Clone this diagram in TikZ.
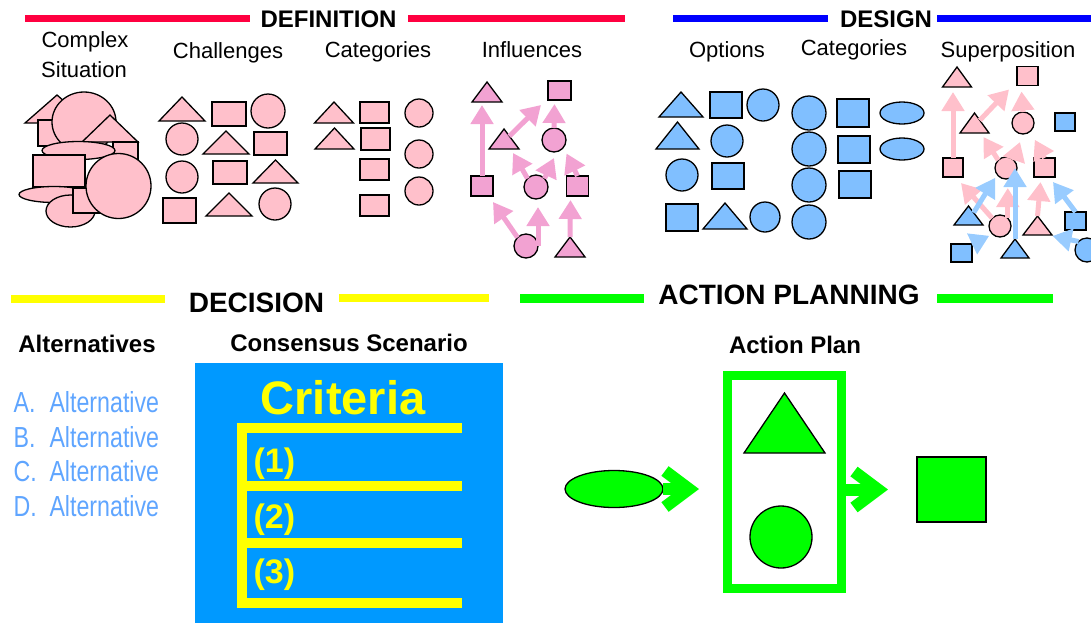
\documentclass[tikz,border=0pt]{standalone}
\usepackage{tikz}
\usepackage{xcolor}
\usepackage{fontspec}
\setmainfont{Liberation Sans}
\newfontfamily\narrowfont[FakeStretch=0.8]{Liberation Sans}
\usetikzlibrary{shapes.geometric,arrows.meta}

\definecolor{defred}{RGB}{255,0,64}
\definecolor{desblue}{RGB}{0,0,255}
\definecolor{decyellow}{RGB}{255,255,0}
\definecolor{actgreen}{RGB}{0,255,0}
\definecolor{lpink}{RGB}{255,192,203}
\definecolor{ipink}{RGB}{242,162,210}
\definecolor{lblue}{RGB}{128,191,255}
\definecolor{arblue}{RGB}{153,204,255}
\definecolor{scenblue}{RGB}{0,153,255}
\definecolor{altblue}{RGB}{95,165,255}

\tikzset{
  shp/.style={draw=black, line width=1.3pt, inner sep=0pt, outer sep=0pt},
  box/.style 2 args={shp, rectangle, minimum width=#1pt, minimum height=#2pt},
  ball/.style={shp, circle, minimum size=#1pt},
  oval/.style 2 args={shp, ellipse, minimum width=#1pt, minimum height=#2pt},
  tri/.style 2 args={shp, isosceles triangle, isosceles triangle stretches,
    shape border rotate=90, minimum width=#1pt, minimum height=#2pt, anchor=south},
  infl/.style={draw=ipink, line width=5pt, -{Triangle[length=19pt,width=22pt]}},
  spk/.style={draw=lpink, line width=5pt, -{Triangle[length=19pt,width=22pt]}},
  sbl/.style={draw=arblue, line width=5pt, -{Triangle[length=19pt,width=22pt]}},
  chev/.style={draw=actgreen, line width=12pt, -{Straight Barb[sharp,length=24pt,width=36pt]}},
  hd/.style={font=\fontsize{24}{28}\selectfont\bfseries, anchor=base},
  big/.style={font=\fontsize{28}{32}\selectfont\bfseries, anchor=base},
  sub/.style={font=\fontsize{22}{26}\selectfont, anchor=base},
  lab/.style={font=\fontsize{24}{28}\selectfont\bfseries, anchor=base},
}

\begin{document}
\begin{tikzpicture}[x=1pt,y=-1pt]
\useasboundingbox (0,0) rectangle (1091,622);

% section titles
\draw[line width=6.5pt, defred] (25,18.5) -- (250,18.5);
\draw[line width=6.5pt, defred] (408,18.5) -- (625,18.5);
\node[hd] (tdef) at (328.5,27) {DEFINITION};
\draw[line width=6.5pt, desblue] (673,18.5) -- (828,18.5);
\draw[line width=6.5pt, desblue] (937,18.5) -- (1091,18.5);
\node[hd] (tdes) at (886,27) {DESIGN};

\node[sub] (tcx1) at (85,47) {Complex};
\node[sub] (tcx2) at (84,77) {Situation};
\node[sub] (tch) at (228,58) {Challenges};
\node[sub] (tca) at (378,57) {Categories};
\node[sub] (tin) at (532,57) {Influences};
\node[sub] (top) at (727,57) {Options};
\node[sub] (tcb) at (854,55) {Categories};
\node[sub] (tsu) at (1008,57) {Superposition};

% complex situation
\node[tri={64}{28}, fill=lpink] (c1) at (57,123) {};
\node[box={28}{26}, fill=lpink] (c2) at (52,133) {};
\node[oval={64}{60}, fill=lpink] (c3) at (84,122) {};
\node[tri={56}{27}, fill=lpink] (c4) at (110,142) {};
\node[box={25}{26}, fill=lpink] (c5) at (125.5,155) {};
\node[oval={73}{18}, fill=lpink] (c6) at (78.5,150.5) {};
\node[box={52}{32}, fill=lpink] (c7) at (59,171) {};
\node[oval={70}{16}, fill=lpink] (c8) at (54,194.5) {};
\node[oval={49}{32}, fill=lpink] (c9) at (70.5,211) {};
\node[box={27}{25}, fill=lpink] (c10) at (86.5,200.5) {};
\node[ball=65, fill=lpink] (c11) at (118.5,186) {};

% challenges
\node[tri={46}{24}, fill=lpink] (g1) at (182,121) {};
\node[box={34}{24}, fill=lpink] (g2) at (229,114) {};
\node[ball=34, fill=lpink] (g3) at (268,111) {};
\node[ball=32, fill=lpink] (g4) at (182,139) {};
\node[tri={46}{23}, fill=lpink] (g5) at (226,154) {};
\node[box={33}{23}, fill=lpink] (g6) at (270.5,143.5) {};
\node[ball=32, fill=lpink] (g7) at (182,177) {};
\node[box={34}{23}, fill=lpink] (g8) at (230,172.5) {};
\node[tri={45}{23}, fill=lpink] (g9) at (275.5,183) {};
\node[box={33}{25}, fill=lpink] (g10) at (179.5,210.5) {};
\node[tri={46}{23}, fill=lpink] (g11) at (229,216) {};
\node[ball=32, fill=lpink] (g12) at (275,204) {};

% categories
\node[tri={39}{21}, fill=lpink] (k1) at (334,123) {};
\node[tri={39}{21}, fill=lpink] (k2) at (334.5,149) {};
\node[box={29}{21}, fill=lpink] (k3) at (374.5,112.5) {};
\node[box={29}{22}, fill=lpink] (k4) at (375.5,139) {};
\node[box={29}{21}, fill=lpink] (k5) at (374.5,169.5) {};
\node[box={29}{21}, fill=lpink] (k6) at (374.5,205.5) {};
\node[ball=28, fill=lpink] (k7) at (419,113) {};
\node[ball=28, fill=lpink] (k8) at (419,154) {};
\node[ball=28, fill=lpink] (k9) at (419,191) {};

% influences
\node[tri={30}{20}, fill=ipink] (i1) at (487,102) {};
\node[box={23}{19}, fill=ipink] (i2) at (559.5,90.5) {};
\node[tri={30}{20}, fill=ipink] (i3) at (504,149) {};
\node[ball=24, fill=ipink] (i4) at (554,140) {};
\node[box={22}{20}, fill=ipink] (i5) at (482,186) {};
\node[ball=24, fill=ipink] (i6) at (536,187) {};
\node[box={22}{20}, fill=ipink] (i7) at (577.5,186) {};
\node[ball=24, fill=ipink] (i8) at (526,246) {};
\node[tri={30}{20}, fill=ipink] (i9) at (570,257) {};
\draw[infl] (i5.north) -- ([shift={(-5,3)}]i1.south);
\draw[infl] (i3.north east) -- ([shift={(-7,5)}]i2.south west);
\draw[infl] (i4.north) -- ([shift={(-5,4)}]i2.south);
\draw[infl] (i6.north west) -- ([shift={(9,4)}]i3.south);
\draw[infl] (i6.north east) -- ([shift={(0,6)}]i4.south);
\draw[infl] (i7.north) -- ([shift={(4,5)}]i4.south east);
\draw[infl] (i8.north west) -- ([shift={(0,6)}]i5.south east);
\draw[infl, shorten >=8pt] (i8.east) -- (i8.east |- i6.south);
\draw[infl] (i9.north) -- ([shift={(-7,4)}]i7.south);

% options
\node[tri={44}{25}, fill=lblue] (o1) at (681,117) {};
\node[box={32}{26}, fill=lblue] (o2) at (726,105) {};
\node[ball=32, fill=lblue] (o3) at (763,105) {};
\node[tri={43}{27}, fill=lblue] (o4) at (677.5,149) {};
\node[ball=32, fill=lblue] (o5) at (727,141) {};
\node[ball=32, fill=lblue] (o6) at (682,175) {};
\node[box={32}{26}, fill=lblue] (o7) at (728,176) {};
\node[box={32}{27}, fill=lblue] (o8) at (682,217.5) {};
\node[tri={44}{26}, fill=lblue] (o9) at (725,229) {};
\node[ball=30, fill=lblue] (o10) at (765,217) {};

% design categories
\node[ball=34, fill=lblue] (m1) at (809,113) {};
\node[ball=34, fill=lblue] (m2) at (809,149) {};
\node[ball=34, fill=lblue] (m3) at (809,185) {};
\node[ball=34, fill=lblue] (m4) at (809,222) {};
\node[box={32}{28}, fill=lblue] (m5) at (853,113) {};
\node[box={32}{27}, fill=lblue] (m6) at (854,149.5) {};
\node[box={32}{27}, fill=lblue] (m7) at (855,184.5) {};
\node[oval={44}{22}, fill=lblue] (m8) at (902,113) {};
\node[oval={44}{22}, fill=lblue] (m9) at (902,149) {};

% superposition
\node[tri={29}{20}, fill=lpink] (s1) at (957,87) {};
\node[box={21}{19}, fill=lpink] (s2) at (1027.5,76) {};
\node[tri={29}{20}, fill=lpink] (s3) at (974.5,133) {};
\node[ball=22, fill=lpink] (s4) at (1023,123) {};
\node[box={20}{18}, fill=lblue] (s5) at (1065,122) {};
\node[box={20}{19}, fill=lpink] (s6) at (953,167.5) {};
\node[ball=22, fill=lpink] (s7) at (1006,168) {};
\node[box={21}{19}, fill=lpink] (s8) at (1044.5,167.5) {};
\node[tri={29}{19}, fill=lblue] (s9) at (968.5,225) {};
\node[ball=22, fill=lpink] (s10) at (1000,226) {};
\node[tri={29}{19}, fill=lpink] (s11) at (1037.5,235) {};
\node[box={21}{18}, fill=lblue] (s12) at (1075.5,221) {};
\node[box={21}{18}, fill=lblue] (s13) at (961.5,253) {};
\node[tri={28}{19}, fill=lblue] (s14) at (1015,258) {};
\node[ball=24, fill=lblue] (s15) at (1087,250) {};
\draw[spk] (s6.north) -- ([shift={(-4,5)}]s1.south);
\draw[spk] (s3.north east) -- ([shift={(-8,4)}]s2.south west);
\draw[spk] (s4.north) -- ([shift={(-6,6)}]s2.south);
\draw[spk] (s7.north west) -- ([shift={(9,4)}]s3.south);
\draw[spk] (s7.north east) -- ([shift={(-3,8)}]s4.south);
\draw[spk] (s8.north) -- ([shift={(4,9)}]s4.south east);
\draw[spk] (s10.north west) -- ([shift={(-2,6)}]s6.south east);
\draw[spk, shorten >=9pt] (s10.north east) -- (s10.north east |- s7.south);
\draw[spk] (s11.north) -- ([shift={(-4,5)}]s8.south);
\draw[sbl] (s9.north east) -- ([shift={(-3,2)}]s7.south west);
\draw[sbl] (s14.north) -- (s14.north |- s7.east);
\draw[sbl] (s13.north east) -- ([shift={(-3,2)}]s10.south west);
\draw[sbl] (s15.north west) -- ([shift={(15,1)}]s11.south);
\draw[sbl] (s12.north) -- ([shift={(-2,5)}]s8.south east);

% decision
\draw[line width=8pt, decyellow] (11,298.5) -- (165,298.5);
\draw[line width=8pt, decyellow] (339,298) -- (489,298);
\node[big] (tdec) at (256.5,312) {DECISION};
\node[lab] (talt) at (87,352) {Alternatives};
\node[lab] (tcon) at (349,351) {Consensus Scenario};
\foreach \l/\y in {A/412,B/447,C/481,D/516}
  \node[font=\narrowfont\fontsize{29}{32}\selectfont, text=altblue, anchor=base west] (alt\l) at (10,\y) {\makebox[36pt][l]{\l.}Alternative};

\node[fill=scenblue, inner sep=0pt, minimum width=308pt, minimum height=270pt, anchor=north west] (scen) at (195,363) {};
\node[font=\fontsize{47}{50}\selectfont\bfseries, text=decyellow, anchor=base] (crit) at (343,414) {Criteria};
\fill[decyellow] (237,423) rectangle (247,608);
\foreach \y in {423,481,538,598}
  \fill[decyellow] (237,\y) rectangle (462,\y+10);
\foreach \n/\y in {1/472,2/528,3/583}
  \node[font=\fontsize{34}{38}\selectfont\bfseries, text=decyellow, anchor=base west] (cr\n) at (250,\y) {(\n)};

% action planning
\draw[line width=9pt, actgreen] (520,298) -- (644,298);
\draw[line width=9pt, actgreen] (937,298) -- (1053,298);
\node[big] (tact) at (789,304) {ACTION PLANNING};
\node[lab] (tpl) at (795,353) {Action Plan};
\node[draw=actgreen, line width=9pt, inner sep=0pt, minimum width=114pt, minimum height=213pt] (plan) at (784.5,482) {};
\node[tri={81}{60}, fill=actgreen] (pt) at (784.5,453) {};
\node[ball=62, fill=actgreen] (pc) at (781,537) {};
\node[oval={98}{37}, fill=actgreen] (ell) at (614,489) {};
\node[box={69}{65}, fill=actgreen] (sq) at (951.5,489.5) {};
\draw[chev, shorten >=24pt] (ell.east) -- (ell.east -| plan.west);
\draw[chev, shorten >=29pt] (plan.east |- sq.west) -- (sq.west);
\end{tikzpicture}
\end{document}
